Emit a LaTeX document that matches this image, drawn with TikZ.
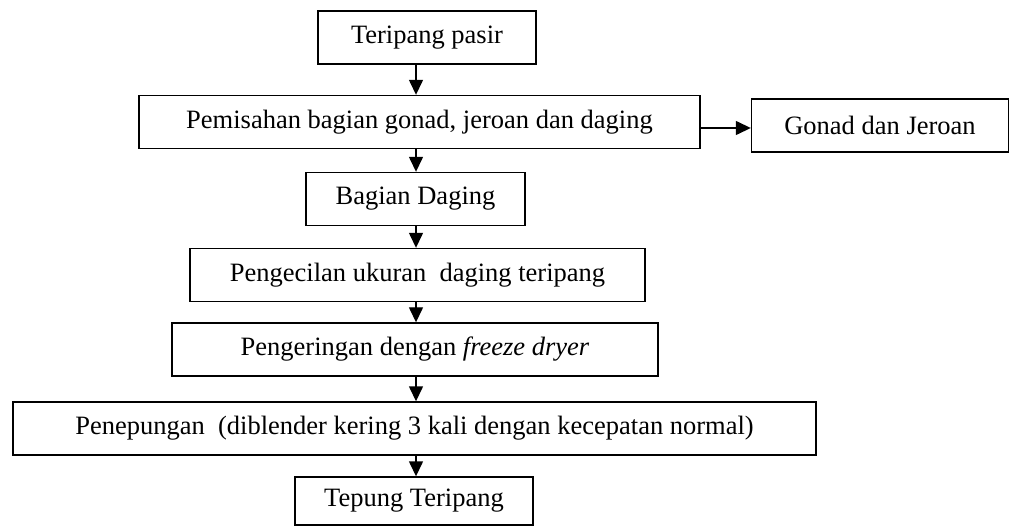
\documentclass[tikz,border=0pt]{standalone}
\usepackage{fontspec}
\setmainfont{Liberation Serif}
\usetikzlibrary{arrows.meta}

\begin{document}
\begin{tikzpicture}[x=1pt,y=-1pt,
  stepbox/.style={draw, line width=1.4pt, inner sep=0pt, minimum height=53pt,
    font=\fontsize{26.5}{31}\selectfont},
  arr/.style={line width=1.4pt, -{Triangle[length=15pt,width=14pt]}}]
  \useasboundingbox (0,0) rectangle (1011,526);
  % process boxes
  \node[stepbox, minimum width=218pt] (tpasir) at (427,37.5) {Teripang pasir};
  \node[stepbox, minimum width=561pt] (pisah) at (419.5,122) {Pemisahan bagian gonad, jeroan dan daging};
  \node[stepbox, minimum width=257pt] (gonad) at (880,125.5) {Gonad dan Jeroan};
  \node[stepbox, minimum width=219pt] (daging) at (415.5,199) {Bagian Daging};
  \node[stepbox, minimum width=455pt] (kecil) at (417.5,275) {Pengecilan ukuran~ daging teripang};
  \node[stepbox, minimum width=486pt] (kering) at (415,349.5) {Pengeringan dengan \textit{freeze dryer}};
  \node[stepbox, minimum width=803pt] (tepungan) at (414.5,428.5) {Penepungan~ (diblender kering 3 kali dengan kecepatan normal)};
  \node[stepbox, minimum width=238pt, minimum height=48pt] (hasil) at (414,501) {Tepung Teripang};
  % arrows
  \coordinate (spine) at (416,0);
  \draw[arr] (tpasir.south -| spine) -- (pisah.north -| spine);
  \draw[arr] (pisah.east |- 0,128) -- (gonad.west |- 0,128);
  \draw[arr] (pisah.south -| spine) -- (daging.north -| spine);
  \draw[arr] (daging.south -| spine) -- (kecil.north -| spine);
  \draw[arr] (kecil.south -| spine) -- (kering.north -| spine);
  \draw[arr] (kering.south -| spine) -- (tepungan.north -| spine);
  \draw[arr] (tepungan.south -| spine) -- (hasil.north -| spine);
\end{tikzpicture}
\end{document}
